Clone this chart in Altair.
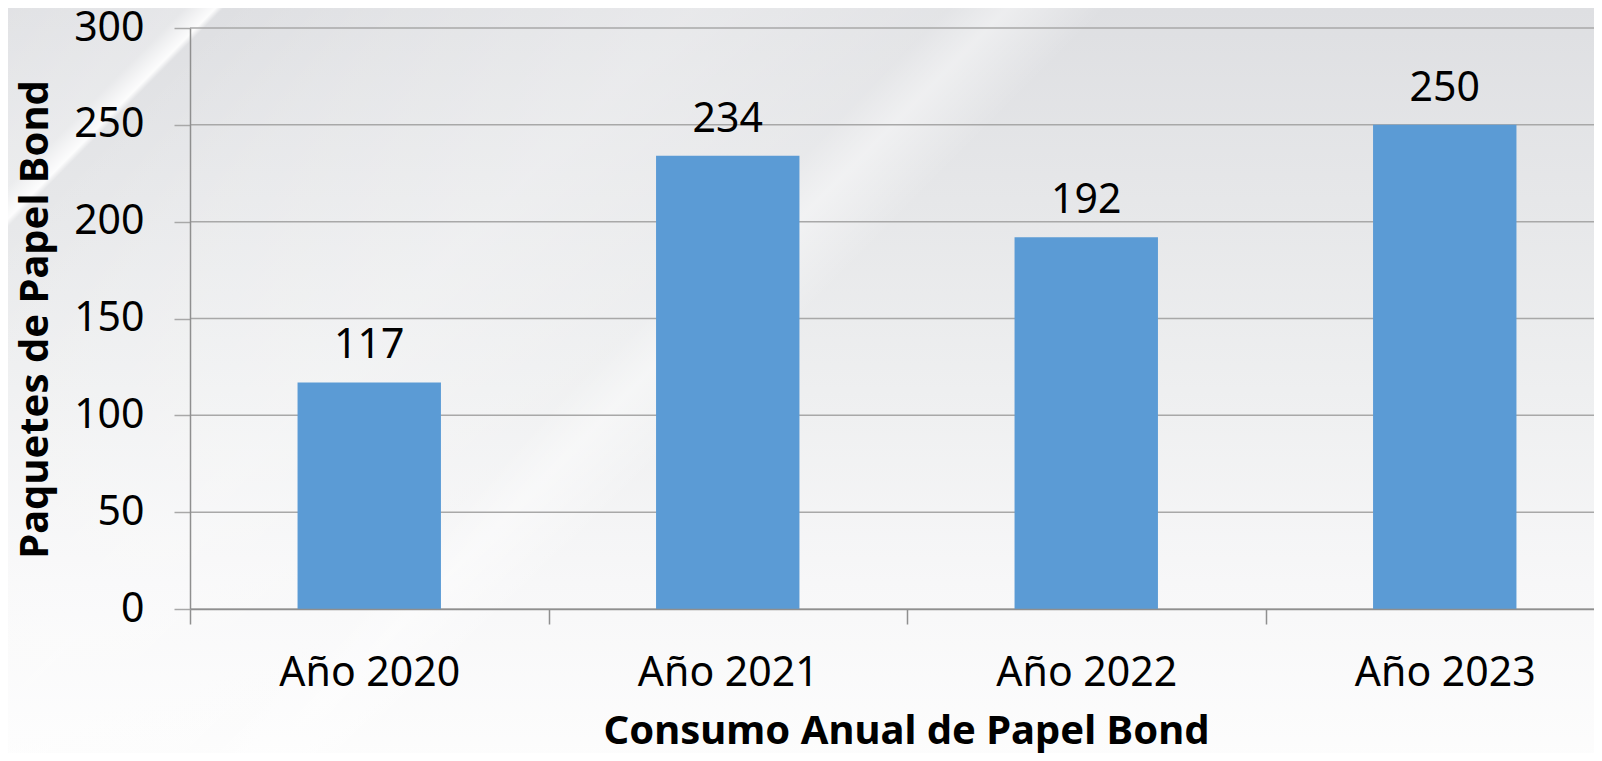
import altair as alt
import pandas as pd

# ---- data ----
years = ["Año 2020", "Año 2021", "Año 2022", "Año 2023"]
paquetes = [117, 234, 192, 250]
y_ticks = [0, 50, 100, 150, 200, 250, 300]

df = pd.DataFrame({"anio": years, "paquetes": paquetes})
grid_df = pd.DataFrame({"v": y_ticks})
bg_df = pd.DataFrame({"k": [0]})

W, H = 1404, 581
FONT = "Noto Sans"
GRID = "#a8a8a8"
AXIS = "#8f8f8f"

x_scale = alt.Scale(domain=years, range=[0, 1434], paddingInner=0, paddingOuter=0)
y_scale = alt.Scale(domain=[0, 300], nice=False, zero=True)

# background: vertical grey->white gradient
bg = alt.Chart(bg_df).mark_rect(
    fill=alt.Gradient(
        gradient="linear", x1=0, y1=0, x2=0, y2=1,
        stops=[
            alt.GradientStop(offset=0.0, color="#dedfe2"),
            alt.GradientStop(offset=0.25, color="#e6e7e9"),
            alt.GradientStop(offset=0.5, color="#eeeff0"),
            alt.GradientStop(offset=0.75, color="#f7f7f8"),
            alt.GradientStop(offset=1.0, color="#fdfdfd"),
        ],
    ),
    stroke=None,
).encode(x=alt.value(-182), x2=alt.value(W + 20), y=alt.value(-20), y2=alt.value(H + 164))

# diagonal light streaks
streak = alt.Chart(bg_df).mark_rect(
    fill=alt.Gradient(
        gradient="linear", x1=0, y1=0, x2=1, y2=0.4697,
        stops=[
            alt.GradientStop(offset=0.0, color="rgba(255,255,255,0.1)"),
            alt.GradientStop(offset=0.09, color="rgba(255,255,255,0.25)"),
            alt.GradientStop(offset=0.106, color="rgba(255,255,255,0.9)"),
            alt.GradientStop(offset=0.11, color="rgba(255,255,255,0.0)"),
            alt.GradientStop(offset=0.2, color="rgba(255,255,255,0.15)"),
            alt.GradientStop(offset=0.35, color="rgba(255,255,255,0.3)"),
            alt.GradientStop(offset=0.48, color="rgba(255,255,255,0.15)"),
            alt.GradientStop(offset=0.51, color="rgba(255,255,255,0.45)"),
            alt.GradientStop(offset=0.56, color="rgba(255,255,255,0.0)"),
            alt.GradientStop(offset=1.0, color="rgba(255,255,255,0.0)"),
        ],
    ),
    stroke=None,
).encode(x=alt.value(-182), x2=alt.value(W + 20), y=alt.value(-20), y2=alt.value(H + 164))

grid = alt.Chart(grid_df).mark_rule(color=GRID, strokeWidth=1.5).encode(
    y=alt.Y("v:Q", scale=y_scale),
    x=alt.value(0),
    x2=alt.value(W + 20),
)

bars = alt.Chart(df).mark_bar(color="#5b9bd5", width=alt.RelativeBandSize(0.4)).encode(
    x=alt.X(
        "anio:N",
        scale=x_scale,
        sort=years,
        axis=alt.Axis(
            title="Consumo Anual de Papel Bond",
            titleFont=FONT, titleFontSize=40, titleFontWeight="bold", titleColor="#000000",
            titleBaseline="alphabetic", titleX=716, titleY=134, titleAlign="center",
            labelFont=FONT, labelFontSize=41, labelColor="#000000", labelAngle=0,
            labelBaseline="alphabetic", labelPadding=61, labelLimit=0,
            tickBand="extent", tickSize=15, tickColor=AXIS, tickWidth=1.5,
            domainColor=AXIS, domainWidth=1.5, grid=False, zindex=1,
        ),
    ),
    y=alt.Y(
        "paquetes:Q",
        scale=y_scale,
        axis=alt.Axis(
            values=y_ticks,
            title="Paquetes de Papel Bond",
            titleFont=FONT, titleFontSize=40, titleFontWeight="bold", titleColor="#000000",
            titleBaseline="alphabetic", titleX=-143, titleY=291, titleAngle=-90, titleAlign="center",
            labelFont=FONT, labelFontSize=41, labelColor="#000000", labelLimit=0,
            labelPadding=30, tickSize=16, tickColor=GRID, tickWidth=1.5,
            domainColor=AXIS, domainWidth=1.5, grid=False, zindex=1,
        ),
    ),
)

labels = alt.Chart(df).mark_text(
    font=FONT, fontSize=41, color="#000000", baseline="alphabetic", dy=-24
).encode(
    x=alt.X("anio:N", scale=x_scale, sort=years),
    y=alt.Y("paquetes:Q", scale=y_scale),
    text=alt.Text("paquetes:Q"),
)

chart = alt.layer(bg, streak, grid, bars, labels).properties(
    width=W,
    height=H,
    autosize=alt.AutoSizeParams(type="none"),
    padding={"left": 182, "top": 20, "right": 0, "bottom": 144},
    background="#fdfdfd",
).configure_view(stroke=None)

chart.save("out.html", embed_options={"renderer": "svg", "actions": False})
